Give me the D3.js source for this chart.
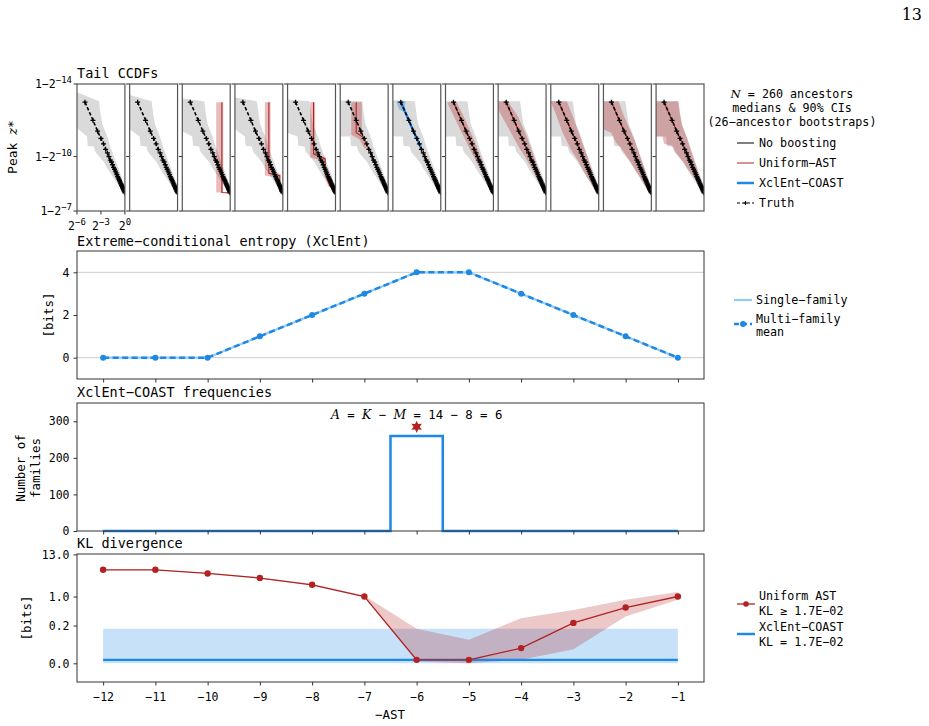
<!DOCTYPE html>
<html>
<head>
<meta charset="utf-8">
<script src="https://cdn.jsdelivr.net/npm/d3@7"></script>
<style>
  body { margin: 0; background: #fff; }
  text { font-family: "DejaVu Sans Mono", monospace; fill: #000; }
  .it { font-family: "DejaVu Serif", serif; font-style: italic; }
</style>
</head>
<body>
<svg id="fig" width="929" height="726"></svg>
<script>
// ---------- data ----------
const ast = [-12, -11, -10, -9, -8, -7, -6, -5, -4, -3, -2, -1];

// XclEnt panel
const entropySingle = [0, 0, 0, 1, 2, 3, 4, 4, 3, 2, 1, 0];
const entropyMean   = [0, 0, 0, 1, 2, 3, 4, 4, 3, 2, 1, 0];
const entropyTicks  = [0, 2, 4];

// XclEnt-COAST frequencies
const coastCounts = [0, 0, 0, 0, 0, 0, 260, 0, 0, 0, 0, 0];
const countTicks  = [0, 100, 200, 300];
const chosenAst = -6, starCount = 285;
const K = 14, M = 8, A = 6;

// KL divergence
const uniformKL = [5.1, 5.1, 4.08, 3.08, 2.04, 1.0, 0.021, 0.021, 0.043, 0.20, 0.51, 1.0];
const uniformLo = [5.0, 5.0, 3.98, 3.0, 1.97, 0.97, 0.019, 0.017, 0.021, 0.040, 0.295, 0.82];
const uniformHi = [5.2, 5.2, 4.18, 3.2, 2.15, 1.05, 0.139, 0.071, 0.267, 0.44, 0.82, 1.31];
const coastKL = [0.021, 0.021, 0.021, 0.021, 0.021, 0.021, 0.021, 0.021, 0.021, 0.021, 0.021, 0.021];
const coastLo = [0.017, 0.017, 0.017, 0.017, 0.017, 0.017, 0.017, 0.017, 0.017, 0.017, 0.017, 0.017];
const coastHi = [0.139, 0.139, 0.139, 0.139, 0.139, 0.139, 0.139, 0.139, 0.139, 0.139, 0.139, 0.139];
const klTicks = [0.017, 0.17, 1.0, 13.0];

// Tail CCDFs  (x: log2 of tail probability, y: -log2(1 - z*))
const ccdfXTicks = [-6, -3, 0];
const ccdfYTicks = [7, 10, 14];
const truthLogP = [-5.0, -4.0, -3.42, -3.0, -2.68, -2.42, -2.19, -2.0, -1.83, -1.68, -1.54, -1.42,
                   -1.3, -1.19, -1.09, -1.0, -0.91, -0.83, -0.75, -0.68, -0.61, -0.54, -0.48, -0.42,
                   -0.36, -0.3, -0.25, -0.2, -0.15, -0.1, -0.05, 0];
const truthLevel = [13.0, 12.0, 11.4, 11.0, 10.7, 10.4, 10.2, 10.0, 9.8, 9.7, 9.55, 9.4,
                    9.3, 9.2, 9.1, 9.0, 8.9, 8.83, 8.75, 8.68, 8.6, 8.54, 8.48, 8.42,
                    8.36, 8.3, 8.25, 8.2, 8.15, 8.1, 8.05, 8.0];
const greyUpper = [[-3.25, 13.05], [-3.04, 12.35], [-2.84, 11.8], [-2.21, 11.1], [-1.79, 10.5],
                   [-1.16, 9.74], [-0.54, 9.03], [-0.125, 8.48], [0, 8.1]];
const greyLower = [[-4.75, 11.1], [-4.66, 10.6], [-3.9, 10.55], [-3.7, 10.25], [-2.64, 9.7],
                   [-2.21, 9.35], [-1.79, 9.07], [-0.96, 8.52], [-0.125, 8.04], [0, 7.95]];
const greyTopLeft = [13.55, 13.4, 13.2, 13.25, 13.15, 13.1, 13.1, 13.05, 13.05, 13.05, 13.05, 13.05];
const greyLowLeft = [11.57, 11.5, 11.4, 11.5, 11.3, 11.1, 11.1, 11.1, 11.1, 11.1, 11.1, 11.1];

const uniformBands = [
  [], [],
  [[-1.75, 13.0], [-0.88, 13.0], [-0.88, 8.02], [-1.75, 8.02]],
  [[-2.25, 13.0], [-1.54, 13.0], [-1.54, 9.12], [-0.3, 9.05], [-0.3, 8.85], [-1.75, 8.92], [-2.25, 8.95]],
  [[-3.16, 13.0], [-2.54, 13.0], [-2.54, 10.2], [-1.2, 9.95], [-1.2, 9.0], [-0.6, 8.35], [-0.9, 8.35],
   [-1.45, 9.0], [-1.45, 9.75], [-3.16, 9.95]],
  [[-4.62, 13.0], [-3.3, 13.0], [-3.3, 11.05], [-2.55, 10.5], [-2.95, 10.45], [-3.6, 10.95], [-4.62, 11.2]],
  [],
  [[-5.7, 13.0], [-4.6, 13.0], [-3.5, 12.0], [-2.5, 11.0], [-1.5, 9.9], [-0.5, 8.6], [0, 8.05],
   [0, 7.95], [-0.5, 8.3], [-1.5, 9.2], [-2.5, 10.0], [-3.5, 10.9], [-4.5, 11.8], [-5.7, 12.9]],
  [[-6, 13.05], [-4.8, 13.05], [-3.5, 12.2], [-2.5, 11.2], [-1.5, 10.0], [-0.5, 8.7], [0, 8.05],
   [0, 7.95], [-0.5, 8.2], [-1.5, 9.1], [-2.5, 9.9], [-3.5, 10.6], [-4.5, 11.4], [-6, 12.6]],
  [[-6, 13.05], [-4.0, 13.05], [-3.3, 12.3], [-2.5, 11.3], [-1.5, 10.1], [-0.5, 8.8], [0, 8.05],
   [0, 7.95], [-0.5, 8.15], [-1.5, 8.9], [-2.5, 9.7], [-3.5, 10.4], [-4.5, 11.3], [-5.5, 12.5], [-6, 13.0]],
  [[-6, 13.05], [-4.1, 13.05], [-3.5, 12.3], [-2.8, 11.6], [-2.0, 10.8], [-1.2, 9.8], [-0.4, 8.7], [0, 8.1],
   [0, 7.95], [-0.5, 8.1], [-1.5, 8.9], [-2.5, 9.6], [-3.5, 10.3], [-4.5, 10.8], [-5, 11.3], [-6, 11.5]],
  [[-6, 13.05], [-3.2, 13.05], [-3.0, 12.4], [-2.7, 11.7], [-2.0, 10.9], [-1.2, 9.8], [-0.4, 8.7], [0, 8.1],
   [0, 7.95], [-0.5, 8.3], [-1.5, 9.0], [-2.0, 9.3], [-2.6, 9.7], [-3.5, 10.2], [-4.0, 10.6], [-5.0, 10.7],
   [-5.2, 11.1], [-6, 11.1]]
];
const uniformLines = [
  [], [],
  [[-1.04, 13.0], [-1.04, 8.02], [0, 8.0]],
  [[-1.75, 13.0], [-1.75, 9.08], [-0.375, 8.94], [-0.375, 8.07], [0, 8.0]],
  [[-2.75, 13.0], [-2.75, 10.15], [-1.29, 9.87], [-1.29, 9.08], [-0.66, 8.35], [0, 8.0]],
  [[-4.0, 13.0], [-4.0, 11.32], [-3.17, 11.07], [-2.42, 10.45], [-2.0, 10.0], [-1.0, 9.0], [0, 8.0]],
  [],
  'truth', 'truth', 'truth', 'truth', 'truth'
];
const coastBands = [[], [], [], [], [], [],
  [[-5.6, 13.05], [-4.4, 13.05], [-4.6, 12.45], [-5.2, 12.6]],
  [], [], [], [], []];
const coastLines = [[], [], [], [], [], [],
  [[-5.0, 13.0], [-4.0, 12.0], [-3.42, 11.4], [-3.0, 11.0], [-2.68, 10.7], [-2.42, 10.4]],
  [], [], [], [], []];

// ---------- drawing ----------
const RED = '#b22222', BLUE = '#1e88e5', LIGHTBLUE = '#92cbf7', GREYBAND = '#dadada';
const FRAME = '#333';
const svg = d3.select('#fig');

function styleAxis(g, fs) {
  g.attr('font-family', null).attr('font-size', fs);
  g.select('.domain').remove();
  g.selectAll('.tick line').attr('stroke', FRAME);
  g.selectAll('.tick text').attr('fill', '#000');
}
function frame(x0, x1, y0, y1) {
  svg.append('rect').attr('x', x0).attr('y', y0).attr('width', x1 - x0).attr('height', y1 - y0)
    .attr('fill', 'none').attr('stroke', FRAME).attr('stroke-width', 1);
}
function title(y, t) {
  svg.append('text').attr('x', 77).attr('y', y).attr('font-size', 13.5).text(t);
}

// page number
svg.append('text').attr('x', 922).attr('y', 20).attr('text-anchor', 'end')
  .style('font-family', '"DejaVu Serif", serif').attr('font-size', 16).text('13');

// ===== Panel A: tail CCDFs =====
const A_TOP = 84, A_BOT = 211;
const xBand = d3.scaleBand().domain(ast).range([77, 704]).paddingInner(0.09);
const yA = d3.scaleLinear().domain([7, 14]).range([A_BOT, A_TOP]);
const truthPts = truthLogP.map((p, i) => [p, truthLevel[i]]);
title(78, 'Tail CCDFs');

ast.forEach(function (a, i) {
  const x0 = xBand(a), bw = xBand.bandwidth();
  const xA = d3.scaleLinear().domain([-6, 0]).range([x0, x0 + bw]);
  const line = d3.line().x(d => xA(d[0])).y(d => yA(d[1]));
  const clipId = 'clipA' + i;
  svg.append('clipPath').attr('id', clipId).append('rect')
    .attr('x', x0).attr('y', A_TOP).attr('width', bw).attr('height', A_BOT - A_TOP);
  const g = svg.append('g').attr('clip-path', 'url(#' + clipId + ')');

  const greyPoly = [[-6, greyTopLeft[i]]].concat(greyUpper)
    .concat(greyLower.slice().reverse()).concat([[-6, greyLowLeft[i]]]);
  g.append('path').attr('d', line(greyPoly) + 'Z').attr('fill', GREYBAND);

  if (uniformBands[i].length)
    g.append('path').attr('d', line(uniformBands[i]) + 'Z').attr('fill', RED).attr('fill-opacity', 0.3);
  if (coastBands[i].length)
    g.append('path').attr('d', line(coastBands[i]) + 'Z').attr('fill', BLUE).attr('fill-opacity', 0.35);

  const uLine = uniformLines[i] === 'truth' ? truthPts : uniformLines[i];
  if (uLine.length)
    g.append('path').attr('d', line(uLine)).attr('fill', 'none').attr('stroke', RED).attr('stroke-width', 1.1);
  if (coastLines[i].length)
    g.append('path').attr('d', line(coastLines[i])).attr('fill', 'none').attr('stroke', BLUE).attr('stroke-width', 2.4);

  g.append('path').attr('d', line(truthPts)).attr('fill', 'none').attr('stroke', '#000')
    .attr('stroke-width', 1.6).attr('stroke-dasharray', '3.5,2');
  g.selectAll('.plus').data(truthPts).join('path')
    .attr('transform', d => 'translate(' + xA(d[0]) + ',' + yA(d[1]) + ')')
    .attr('d', 'M-2.5,0H2.5M0,-2.5V2.5').attr('stroke', '#000').attr('stroke-width', 1.3);

  // y ticks (outward) on each panel
  svg.selectAll(null).data(ccdfYTicks).join('line')
    .attr('x1', x0 - 3.5).attr('x2', x0).attr('y1', d => yA(d)).attr('y2', d => yA(d))
    .attr('stroke', FRAME);

  if (i === 0) {
    ccdfYTicks.forEach(function (t) {
      const tx = svg.append('text').attr('x', x0 - 5).attr('y', yA(t) + 4)
        .attr('text-anchor', 'end').attr('font-size', 11.5);
      tx.append('tspan').text('1\u22122');
      tx.append('tspan').attr('dy', -5).attr('font-size', 9).text('\u2212' + t);
    });
    ccdfXTicks.forEach(function (t) {
      svg.append('line').attr('x1', xA(t)).attr('x2', xA(t)).attr('y1', A_BOT).attr('y2', A_BOT + 3.5)
        .attr('stroke', FRAME);
      const tx = svg.append('text').attr('x', xA(t)).attr('y', A_BOT + 19)
        .attr('text-anchor', 'middle').attr('font-size', 11.5);
      tx.append('tspan').text('2');
      tx.append('tspan').attr('dy', -5).attr('font-size', 9).text(t === 0 ? '0' : '\u2212' + (-t));
    });
  }
  svg.append('rect').attr('x', x0).attr('y', A_TOP).attr('width', bw).attr('height', A_BOT - A_TOP)
    .attr('fill', 'none').attr('stroke', '#555').attr('stroke-width', 1.2);
});

const peak = svg.append('text').attr('transform', 'translate(17,147) rotate(-90)')
  .attr('text-anchor', 'middle').attr('font-size', 13);
peak.append('tspan').text('Peak ');
peak.append('tspan').attr('class', 'it').text('z');
peak.append('tspan').text('*');

// legend A
const legA = svg.append('g');
const hdr1 = legA.append('text').attr('x', 792).attr('y', 98).attr('text-anchor', 'middle').attr('font-size', 11.7);
hdr1.append('tspan').attr('class', 'it').text('N');
hdr1.append('tspan').text(' = 260 ancestors');
legA.append('text').attr('x', 792).attr('y', 112).attr('text-anchor', 'middle').attr('font-size', 11.7)
  .text('medians & 90% CIs');
legA.append('text').attr('x', 792).attr('y', 126).attr('text-anchor', 'middle').attr('font-size', 11.7)
  .text('(26\u2212ancestor bootstraps)');
const legAItems = [
  { label: 'No boosting', color: '#808080', w: 2, y: 143 },
  { label: 'Uniform\u2212AST', color: RED, w: 1, y: 163 },
  { label: 'XclEnt\u2212COAST', color: BLUE, w: 2.5, y: 183 },
  { label: 'Truth', color: '#000', w: 1.2, y: 203, dash: '3,2' }
];
legAItems.forEach(function (d) {
  legA.append('line').attr('x1', 737).attr('x2', 754).attr('y1', d.y).attr('y2', d.y)
    .attr('stroke', d.color).attr('stroke-width', d.w).attr('stroke-dasharray', d.dash || null);
  if (d.dash) legA.append('path').attr('d', 'M743.5,' + d.y + 'h4M745.5,' + (d.y - 2) + 'v4')
    .attr('stroke', '#000').attr('stroke-width', 1.1);
  legA.append('text').attr('x', 759).attr('y', d.y + 4).attr('font-size', 11.7).text(d.label);
});

// shared x scale for panels B-D
const xB = d3.scaleLinear().domain([-12.5, -0.5]).range([77, 704]);
function xTicksOnly(yPos) {
  const g = svg.append('g').attr('transform', 'translate(0,' + yPos + ')')
    .call(d3.axisBottom(xB).tickValues(ast).tickSize(3.5).tickFormat(''));
  styleAxis(g, 11.5);
}

// ===== Panel B: entropy =====
const B_TOP = 251, B_BOT = 379;
const yB = d3.scaleLinear().domain([-1, 5]).range([B_BOT, B_TOP]);
title(246, 'Extreme\u2212conditional entropy (XclEnt)');
[0, 4].forEach(v => svg.append('line').attr('x1', 77).attr('x2', 704)
  .attr('y1', yB(v)).attr('y2', yB(v)).attr('stroke', '#cccccc').attr('stroke-width', 1));
const entPts = ast.map((a, i) => ({ a: a, s: entropySingle[i], m: entropyMean[i] }));
svg.append('path').datum(entPts)
  .attr('d', d3.line().x(d => xB(d.a)).y(d => yB(d.s)))
  .attr('fill', 'none').attr('stroke', LIGHTBLUE).attr('stroke-width', 2.2);
svg.append('path').datum(entPts)
  .attr('d', d3.line().x(d => xB(d.a)).y(d => yB(d.m)))
  .attr('fill', 'none').attr('stroke', BLUE).attr('stroke-width', 2.5).attr('stroke-dasharray', '6,3.5');
svg.selectAll('.entdot').data(entPts).join('circle')
  .attr('cx', d => xB(d.a)).attr('cy', d => yB(d.m)).attr('r', 3).attr('fill', BLUE);
const gBy = svg.append('g').attr('transform', 'translate(77,0)')
  .call(d3.axisLeft(yB).tickValues(entropyTicks).tickSize(3.5).tickPadding(4).tickFormat(d3.format('d')));
styleAxis(gBy, 11.5);
xTicksOnly(B_BOT);
frame(77, 704, B_TOP, B_BOT);
svg.append('text').attr('transform', 'translate(53,315) rotate(-90)')
  .attr('text-anchor', 'middle').attr('font-size', 12.5).text('[bits]');
// legend B
svg.append('line').attr('x1', 734).attr('x2', 752).attr('y1', 300).attr('y2', 300)
  .attr('stroke', LIGHTBLUE).attr('stroke-width', 2.2);
svg.append('text').attr('x', 756).attr('y', 304).attr('font-size', 11.7).text('Single\u2212family');
svg.append('line').attr('x1', 734).attr('x2', 752).attr('y1', 324).attr('y2', 324)
  .attr('stroke', BLUE).attr('stroke-width', 2.5).attr('stroke-dasharray', '5,3');
svg.append('circle').attr('cx', 743).attr('cy', 324).attr('r', 3).attr('fill', BLUE);
svg.append('text').attr('x', 756).attr('y', 323).attr('font-size', 11.7).text('Multi\u2212family');
svg.append('text').attr('x', 756).attr('y', 336).attr('font-size', 11.7).text('mean');

// ===== Panel C: frequencies =====
const C_TOP = 403, C_BOT = 531;
const yC = d3.scaleLinear().domain([0, 350]).range([C_BOT, C_TOP]);
title(397, 'XclEnt\u2212COAST frequencies');
const cntPts = ast.map((a, i) => ({ a: a, v: coastCounts[i] }));
svg.append('path').datum(cntPts)
  .attr('d', d3.line().x(d => xB(d.a)).y(d => yC(d.v)).curve(d3.curveStep))
  .attr('fill', 'none').attr('stroke', BLUE).attr('stroke-width', 2.5);
// six-pointed star
const hexStar = {
  draw: function (ctx, size) {
    const R = Math.sqrt(size) / 2, r = R * 0.5;
    for (let k = 0; k < 12; k++) {
      const ang = -Math.PI / 2 + k * Math.PI / 6, rad = k % 2 ? r : R;
      const px = rad * Math.cos(ang), py = rad * Math.sin(ang);
      if (k === 0) ctx.moveTo(px, py); else ctx.lineTo(px, py);
    }
    ctx.closePath();
  }
};
svg.append('path').attr('d', d3.symbol().type(hexStar).size(150)())
  .attr('transform', 'translate(' + xB(chosenAst) + ',' + yC(starCount) + ')').attr('fill', RED);
const ann = svg.append('text').attr('x', xB(chosenAst)).attr('y', 419)
  .attr('text-anchor', 'middle').attr('font-size', 12.3);
ann.append('tspan').attr('class', 'it').text('A');
ann.append('tspan').text(' = ');
ann.append('tspan').attr('class', 'it').text('K');
ann.append('tspan').text(' \u2212 ');
ann.append('tspan').attr('class', 'it').text('M');
ann.append('tspan').text(' = ' + K + ' \u2212 ' + M + ' = ' + A);
const gCy = svg.append('g').attr('transform', 'translate(77,0)')
  .call(d3.axisLeft(yC).tickValues(countTicks).tickSize(3.5).tickPadding(4).tickFormat(d3.format('d')));
styleAxis(gCy, 11.5);
xTicksOnly(C_BOT);
frame(77, 704, C_TOP, C_BOT);
const nf = svg.append('text').attr('transform', 'translate(28,468) rotate(-90)')
  .attr('text-anchor', 'middle').attr('font-size', 12.5);
nf.append('tspan').attr('x', 0).attr('dy', '-0.25em').text('Number of');
nf.append('tspan').attr('x', 0).attr('dy', '1.2em').text('families');

// ===== Panel D: KL divergence =====
const D_TOP = 554, D_BOT = 682;
const yD = d3.scaleLog().domain([0.00544, 13.35]).range([D_BOT, D_TOP]);
title(548, 'KL divergence');
const klPts = ast.map((a, i) => ({ a: a, u: uniformKL[i], ulo: uniformLo[i], uhi: uniformHi[i],
  c: coastKL[i], clo: coastLo[i], chi: coastHi[i] }));
svg.append('path').datum(klPts)
  .attr('d', d3.area().x(d => xB(d.a)).y0(d => yD(d.clo)).y1(d => yD(d.chi)))
  .attr('fill', BLUE).attr('fill-opacity', 0.25);
svg.append('path').datum(klPts)
  .attr('d', d3.area().x(d => xB(d.a)).y0(d => yD(d.ulo)).y1(d => yD(d.uhi)))
  .attr('fill', RED).attr('fill-opacity', 0.25);
svg.append('path').datum(klPts)
  .attr('d', d3.line().x(d => xB(d.a)).y(d => yD(d.c)))
  .attr('fill', 'none').attr('stroke', BLUE).attr('stroke-width', 2.2);
svg.append('path').datum(klPts)
  .attr('d', d3.line().x(d => xB(d.a)).y(d => yD(d.u)))
  .attr('fill', 'none').attr('stroke', RED).attr('stroke-width', 1.3);
svg.selectAll('.kldot').data(klPts).join('circle')
  .attr('cx', d => xB(d.a)).attr('cy', d => yD(d.u)).attr('r', 3.2).attr('fill', RED);
const gDy = svg.append('g').attr('transform', 'translate(77,0)')
  .call(d3.axisLeft(yD).tickValues(klTicks).tickSize(3.5).tickPadding(4).tickFormat(d3.format('.1f')));
styleAxis(gDy, 11.5);
const gDx = svg.append('g').attr('transform', 'translate(0,' + D_BOT + ')')
  .call(d3.axisBottom(xB).tickValues(ast).tickSize(3.5).tickPadding(7).tickFormat(d3.format('d')));
styleAxis(gDx, 11.5);
frame(77, 704, D_TOP, D_BOT);
svg.append('text').attr('transform', 'translate(31,618) rotate(-90)')
  .attr('text-anchor', 'middle').attr('font-size', 12.5).text('[bits]');
svg.append('text').attr('x', 390).attr('y', 719).attr('text-anchor', 'middle')
  .attr('font-size', 12.5).text('\u2212AST');
// legend D
svg.append('line').attr('x1', 737).attr('x2', 755).attr('y1', 604).attr('y2', 604)
  .attr('stroke', RED).attr('stroke-width', 1.3);
svg.append('circle').attr('cx', 746).attr('cy', 604).attr('r', 2.8).attr('fill', RED);
svg.append('text').attr('x', 759).attr('y', 600).attr('font-size', 11.7).text('Uniform AST');
svg.append('text').attr('x', 759).attr('y', 615).attr('font-size', 11.7).text('KL \u2265 1.7E\u221202');
svg.append('line').attr('x1', 737).attr('x2', 755).attr('y1', 634).attr('y2', 634)
  .attr('stroke', BLUE).attr('stroke-width', 2.5);
svg.append('text').attr('x', 759).attr('y', 631).attr('font-size', 11.7).text('XclEnt\u2212COAST');
svg.append('text').attr('x', 759).attr('y', 646).attr('font-size', 11.7).text('KL = 1.7E\u221202');
</script>
</body>
</html>
